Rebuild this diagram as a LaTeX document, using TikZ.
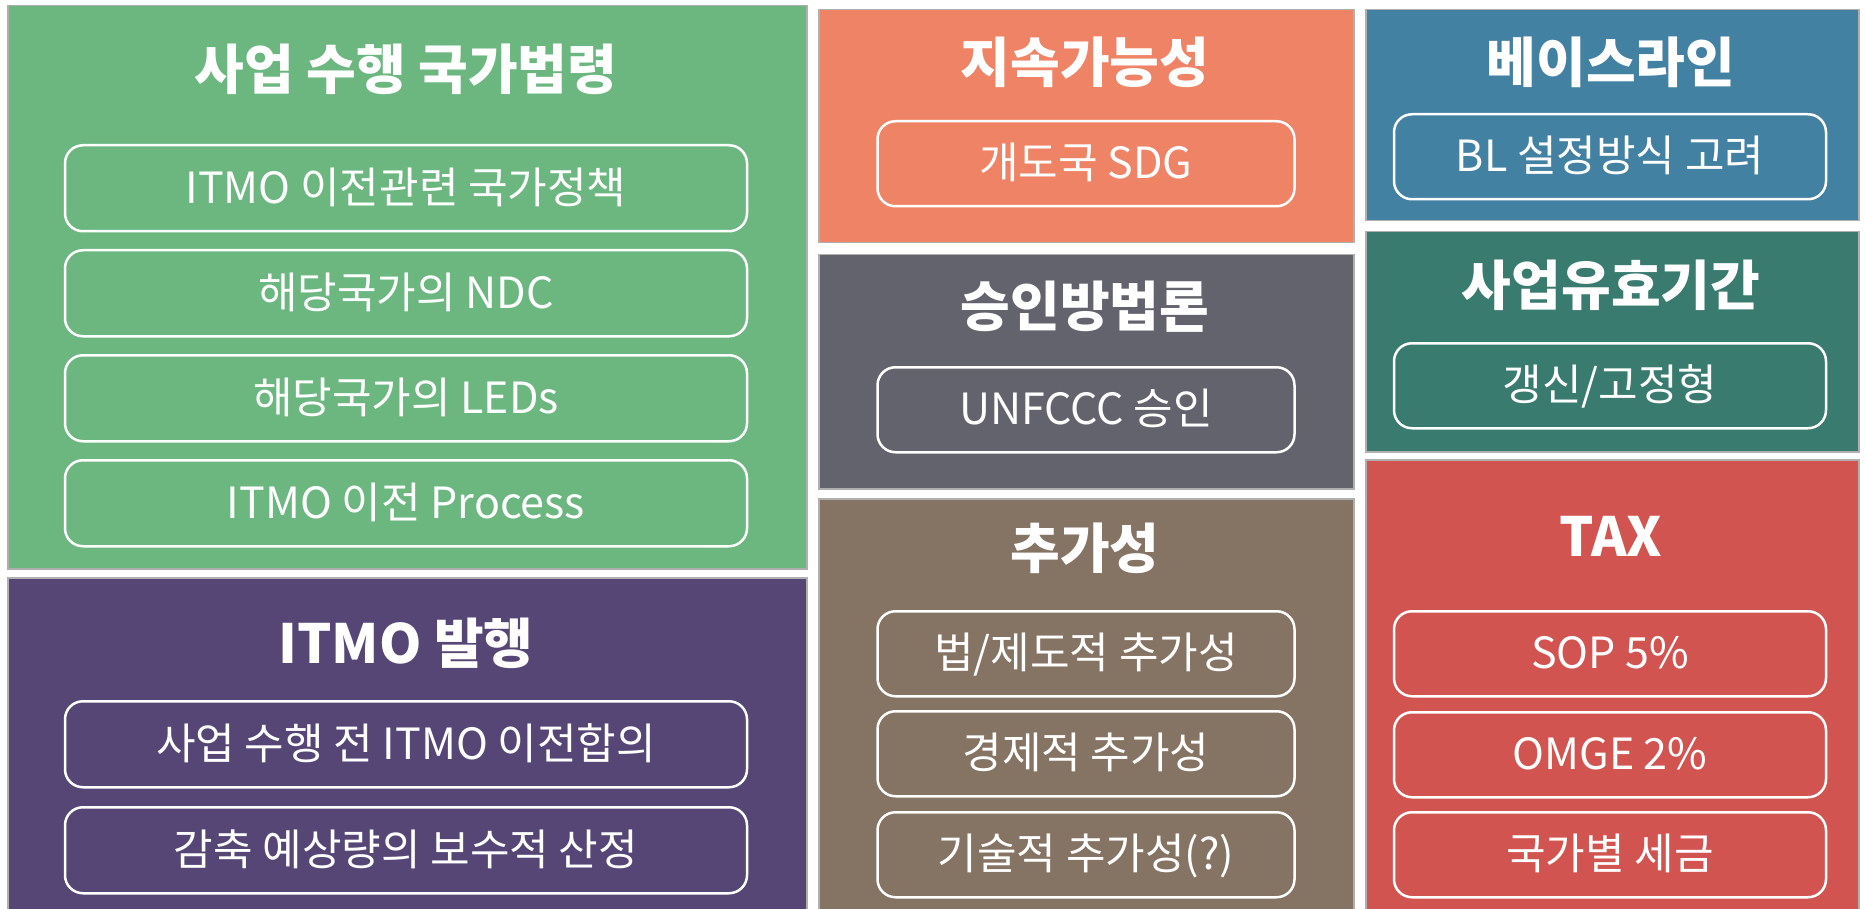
\documentclass[tikz,border=0pt]{standalone}
\usepackage{fontspec}
\newfontfamily\kr{Noto Sans CJK KR}
\newfontfamily\krb{Noto Sans CJK KR Black}
\definecolor{cgreen}{RGB}{108,183,128}
\definecolor{cpurple}{RGB}{86,70,118}
\definecolor{corange}{RGB}{239,131,102}
\definecolor{cgray}{RGB}{99,99,109}
\definecolor{cbrown}{RGB}{133,115,99}
\definecolor{cblue}{RGB}{67,129,162}
\definecolor{cteal}{RGB}{58,123,112}
\definecolor{cred}{RGB}{209,84,80}
\definecolor{cedge}{RGB}{176,176,176}
\tikzset{
  panel/.style={draw=cedge, line width=1.5pt, anchor=north west, inner sep=0pt},
  ptitle/.style={text=white, font=\krb\fontsize{54}{64}\selectfont, inner sep=0pt, anchor=center},
  ibox/.style={draw=white, line width=2.5pt, rounded corners=18pt, text=white,
    font=\kr\fontsize{43}{50}\selectfont, inner sep=0pt, anchor=north,
    text height=40pt, text depth=10pt},
}
\begin{document}
\begin{tikzpicture}[x=1pt,y=-1pt]
\useasboundingbox (0,0) rectangle (1865,909);
\clip (0,0) rectangle (1865,909);
\fill[white] (0,0) rectangle (1865,909);
% panels
\node[panel, fill=cgreen, minimum width=799, minimum height=563] (pg) at (7,5) {};
\node[panel, fill=cpurple, minimum width=799, minimum height=340] (pp) at (7,577) {};
\node[panel, fill=corange, minimum width=535, minimum height=233] (po) at (818,9) {};
\node[panel, fill=cgray, minimum width=535, minimum height=234] (pk) at (818,254) {};
\node[panel, fill=cbrown, minimum width=535, minimum height=420] (pb) at (818,498) {};
\node[panel, fill=cblue, minimum width=493, minimum height=211] (pl) at (1365,9) {};
\node[panel, fill=cteal, minimum width=493, minimum height=220] (pt) at (1365,231) {};
\node[panel, fill=cred, minimum width=493, minimum height=460] (pr) at (1365,459) {};
% titles
\node[ptitle] (tg) at (406,69) {사업 수행 국가법령};
\node[ptitle] (tp) at (406,643) {ITMO 발행};
\node[ptitle] (to) at (1085,62) {지속가능성};
\node[ptitle] (tk) at (1085,307) {승인방법론};
\node[ptitle] (tb) at (1085,548) {추가성};
\node[ptitle] (tl) at (1611,62) {베이스라인};
\node[ptitle] (tt) at (1611,285) {사업유효기간};
\node[ptitle] (tr) at (1611,536) {TAX};
% inner boxes: green
\tikzset{gbox/.style={ibox, minimum width=682, minimum height=86}}
\node[gbox] (g1) at (406,144) {ITMO 이전관련 국가정책};
\node[gbox] (g2) at (406,249) {해당국가의 NDC};
\node[gbox] (g3) at (406,354) {해당국가의 LEDs};
\node[gbox] (g4) at (406,459) {ITMO 이전 Process};
% purple
\node[gbox] (p1) at (406,700) {사업 수행 전 ITMO 이전합의};
\node[gbox] (p2) at (406,806) {감축 예상량의 보수적 산정};
% middle column
\tikzset{mbox/.style={ibox, minimum width=417, minimum height=85}}
\node[mbox] (o1) at (1086,120) {개도국 SDG};
\node[mbox] (k1) at (1086,366) {UNFCCC 승인};
\node[mbox] (b1) at (1086,610) {법/제도적 추가성};
\node[mbox] (b2) at (1086,710) {경제적 추가성};
\node[mbox] (b3) at (1086,811) {기술적 추가성(?)};
% right column
\tikzset{rbox/.style={ibox, minimum width=432, minimum height=85}}
\node[rbox] (l1) at (1610,113) {BL 설정방식 고려};
\node[rbox] (t1) at (1610,342) {갱신/고정형};
\node[rbox] (r1) at (1610,610) {SOP 5\%};
\node[rbox] (r2) at (1610,711) {OMGE 2\%};
\node[rbox] (r3) at (1610,811) {국가별 세금};
\end{tikzpicture}
\end{document}
